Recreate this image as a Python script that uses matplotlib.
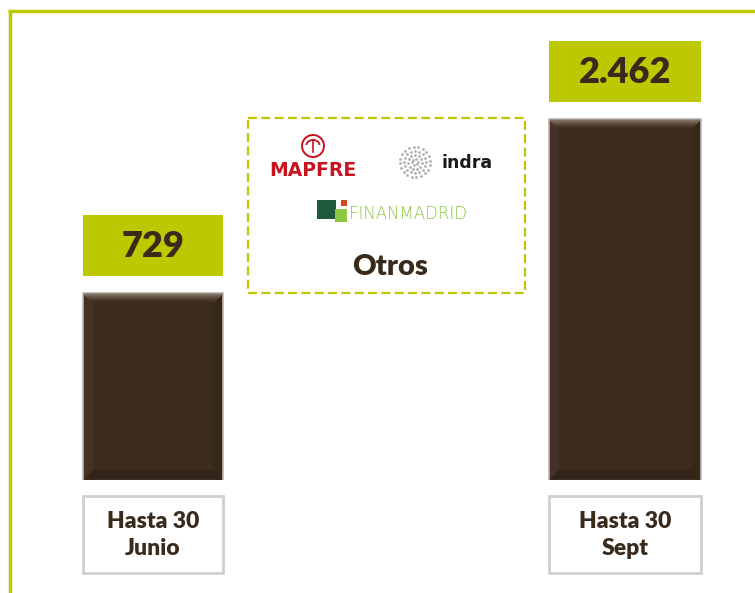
import numpy as np
import matplotlib
matplotlib.use("Agg")
import matplotlib.pyplot as plt
from matplotlib.patches import Rectangle, Polygon, Circle, Arc

# data
categories = ["Hasta 30\nJunio", "Hasta 30\nSept"]
values = [729, 2462]
value_labels = ["729", "2.462"]
box_title = "Otros"

# styles
GREEN = "#bdc800"
BROWN = "#3c2b1f"
TEXT = "#3a2a1c"
FONT = ["Lato", "DejaVu Sans"]
W, H = 755, 593

bar_x = [153, 625]
bar_w = [140, 152]

fig = plt.figure(figsize=(W / 100, H / 100), dpi=100)
fig.patch.set_facecolor("white")

# bar axes (log scale so both bars fit the slide like the original)
base_px, top_px = 480, 10
ax = fig.add_axes([0, (H - base_px) / H, 1, (base_px - top_px) / H])
ax.set_yscale("log")
ax.set_xlim(0, W)
ax.set_ylim(197, 5285)
ax.axis("off")
ax.bar(bar_x, values, width=bar_w, color=BROWN, edgecolor="#bdb7b1", linewidth=1.2, zorder=2)

# overlay in pixel coordinates for the decorations
ov = fig.add_axes([0, 0, 1, 1], zorder=3)
ov.set_xlim(0, W)
ov.set_ylim(H, 0)
ov.axis("off")
ov.patch.set_alpha(0)

# slide frame
ov.plot([9.5, 9.5], [10, H], color=GREEN, lw=2.5, solid_capstyle="butt")
ov.plot([8, W], [11, 11], color=GREEN, lw=2.5, solid_capstyle="butt")

for i, v in enumerate(values):
    x0 = bar_x[i] - bar_w[i] / 2
    x1 = bar_x[i] + bar_w[i] / 2
    ytop = H - ax.transData.transform((bar_x[i], v))[1]
    b = 10
    # bevel: sides and bottom subtle, top lighter with a fade
    ov.add_patch(Polygon([(x0 + 1, ytop + 1), (x0 + b, ytop + b), (x0 + b, base_px - b), (x0 + 1, base_px - 1)],
                         closed=True, color="#433225", lw=0))
    ov.add_patch(Polygon([(x1 - 1, ytop + 1), (x1 - b, ytop + b), (x1 - b, base_px - b), (x1 - 1, base_px - 1)],
                         closed=True, color="#382819", lw=0))
    ov.add_patch(Polygon([(x0 + 1, base_px - 1), (x1 - 1, base_px - 1), (x1 - b, base_px - b), (x0 + b, base_px - b)],
                         closed=True, color="#33241a", lw=0))
    shades = ["#857567", "#7a6a5c", "#6f5f51", "#655446", "#5b4a3d", "#524134", "#4a392c", "#433226", "#3e2d21"]
    for k, c in enumerate(shades):
        t0 = ytop + 1 + k
        ov.add_patch(Polygon([(x0 + 1 + k, t0), (x1 - 1 - k, t0), (x1 - 2 - k, t0 + 1), (x0 + 2 + k, t0 + 1)],
                             closed=True, color=c, lw=0.6))

    # value box
    bh = 61
    by = ytop - 17 - bh
    ov.add_patch(Rectangle((x0, by), bar_w[i], bh, color=GREEN, lw=0))
    ov.text(bar_x[i], by + bh / 2 + 1, value_labels[i], ha="center", va="center",
            fontsize=26, fontweight="heavy", color=TEXT, family=FONT)

    # category box
    ov.add_patch(Rectangle((x0, 496), bar_w[i], 77, facecolor="white", edgecolor="#cfcfcf", lw=2))
    ov.text(bar_x[i], 535, categories[i], ha="center", va="center", linespacing=1.35,
            fontsize=16.5, fontweight="heavy", color=TEXT, family=FONT)

# dashed "Otros" box
ov.add_patch(Rectangle((248, 118), 277, 175, fill=False, edgecolor=GREEN, lw=1.6,
                       linestyle=(0, (4, 2))))
ov.text(390, 267, box_title, ha="center", va="center", fontsize=21, fontweight="heavy",
        color=TEXT, family=FONT)

# MAPFRE logo
RED = "#c8121d"
ov.add_patch(Circle((313, 146), 11, fill=False, edgecolor=RED, lw=1.4))
ov.add_patch(Arc((313, 145), 13, 10, theta1=180, theta2=360, color=RED, lw=1.3))
ov.plot([313, 313], [140, 152], color=RED, lw=1.2)
ov.text(313, 171, "MAPFRE", ha="center", va="center", fontsize=13.5, fontweight="heavy",
        color=RED, family="DejaVu Sans")

# indra logo
for r, n in [(3, 6), (7, 11), (11, 16), (15, 20)]:
    ang = np.linspace(0, 2 * np.pi, n, endpoint=False) + r
    ov.scatter(415 + r * np.cos(ang), 162 + r * np.sin(ang), s=4, color="#b0b0b0", lw=0)
ov.text(467, 163, "indra", ha="center", va="center", fontsize=12.5, fontweight="bold",
        color="#1a1a1a", family="DejaVu Sans")

# FINANMADRID logo
ov.add_patch(Rectangle((317, 200), 19, 19, color="#1e5a3a", lw=0))
ov.add_patch(Rectangle((341, 200), 6, 6, color="#d9471f", lw=0))
ov.add_patch(Rectangle((335, 209), 12, 13, color="#8dc63f", lw=0))
ov.text(349, 214, "FINANMADRID", ha="left", va="center", fontsize=12, fontweight="light",
        color="#8dc63f", family="DejaVu Sans")

fig.savefig("out.png", dpi=100)
